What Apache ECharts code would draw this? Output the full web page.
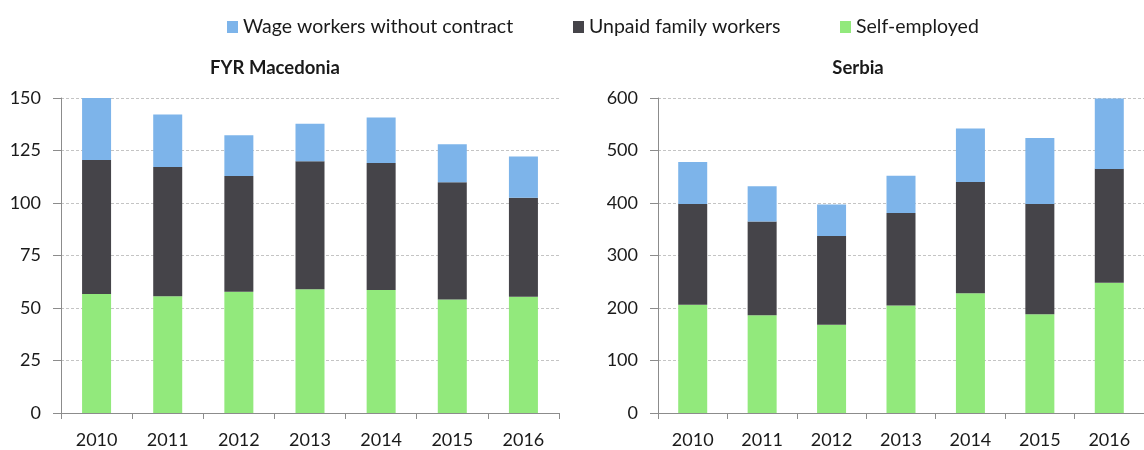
<!DOCTYPE html>
<html>
<head>
<meta charset="utf-8">
<script src="https://cdn.jsdelivr.net/npm/echarts@6/dist/echarts.min.js"></script>
<style>
  html, body { margin: 0; padding: 0; background: #fff; }
  #chart { width: 1144px; height: 450px; }
</style>
</head>
<body>
<div id="chart"></div>
<script>
const years = ['2010', '2011', '2012', '2013', '2014', '2015', '2016']

// FYR Macedonia
const mkSelf   = [56.7, 55.6, 57.7, 58.9, 58.6, 54.0, 55.3]
const mkUnpaid = [63.8, 61.5, 55.1, 61.0, 60.5, 55.9, 47.2]
const mkWage   = [29.5, 25.0, 19.5, 17.8, 21.6, 18.1, 19.6]

// Serbia
const rsSelf   = [206, 186, 168, 205, 228, 188, 248]
const rsUnpaid = [192, 179, 169, 176, 212, 210, 217]
const rsWage   = [80, 67, 60, 71, 102, 126, 134]

const names = ['Wage workers without contract', 'Unpaid family workers', 'Self-employed']
const colors = { wage: '#7DB4EA', unpaid: '#454449', self: '#92E97C' }

const font = 'Lato, "Open Sans", sans-serif'
const ink = '#1a1a1a'
const axisGray = '#8c8c8c'
const gridGray = '#c4c4c4'

const chart = echarts.init(document.getElementById('chart'))

const xAxisFor = (gridIndex) => ({
  type: 'category',
  gridIndex,
  data: years,
  axisLine: { lineStyle: { color: axisGray, width: 1 } },
  axisTick: { show: true, length: 6, lineStyle: { color: axisGray } },
  axisLabel: { color: ink, fontSize: 18, fontFamily: font, margin: 18 },
})

const yAxisFor = (gridIndex, max, interval) => ({
  type: 'value',
  gridIndex,
  min: 0,
  max,
  interval,
  axisLine: { show: true, lineStyle: { color: axisGray, width: 1 } },
  axisTick: { show: true, length: 8, lineStyle: { color: axisGray } },
  splitLine: { lineStyle: { color: gridGray, type: [3, 2] } },
  axisLabel: { color: ink, fontSize: 18, fontFamily: font, margin: 20 },
})

const barFor = (name, data, color, xi) => ({
  name,
  type: 'bar',
  stack: 'total' + xi,
  xAxisIndex: xi,
  yAxisIndex: xi,
  data,
  barWidth: 29,
  itemStyle: { color },
  emphasis: { disabled: true },
})

const legendItem = (name, left) => ({
  data: [name],
  left,
  top: 12,
  icon: 'rect',
  itemWidth: 11,
  itemHeight: 12,
  itemGap: 0,
  textStyle: { color: ink, fontSize: 19.5, fontFamily: font },
})

chart.setOption({
  animation: false,
  textStyle: { fontFamily: font },
  title: [
    { text: 'FYR Macedonia', left: 270, top: 54, textAlign: 'center',
      textStyle: { fontSize: 18.5, fontWeight: 'bold', color: ink, fontFamily: font } },
    { text: 'Serbia', left: 853, top: 54, textAlign: 'center',
      textStyle: { fontSize: 18.5, fontWeight: 'bold', color: ink, fontFamily: font } },
  ],
  legend: [
    legendItem(names[0], 222),
    legendItem(names[1], 568),
    legendItem(names[2], 835),
  ],
  grid: [
    { left: 61, width: 498, top: 98, height: 315 },
    { left: 658, width: 498, top: 98, height: 315 },
  ],
  xAxis: [xAxisFor(0), xAxisFor(1)],
  yAxis: [yAxisFor(0, 150, 25), yAxisFor(1, 600, 100)],
  series: [
    barFor(names[2], mkSelf, colors.self, 0),
    barFor(names[1], mkUnpaid, colors.unpaid, 0),
    barFor(names[0], mkWage, colors.wage, 0),
    barFor(names[2], rsSelf, colors.self, 1),
    barFor(names[1], rsUnpaid, colors.unpaid, 1),
    barFor(names[0], rsWage, colors.wage, 1),
  ],
})
</script>
</body>
</html>
